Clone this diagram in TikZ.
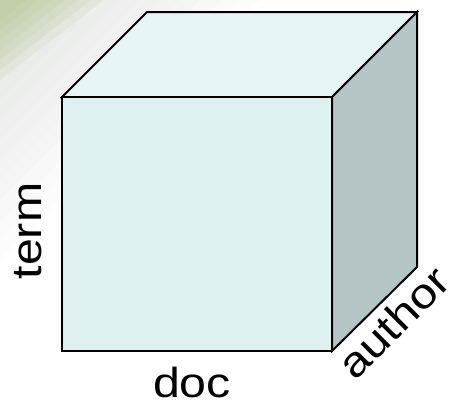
\documentclass[tikz,border=0pt]{standalone}
\usepackage{fontspec}
\setmainfont{Liberation Sans}
\definecolor{frontc}{RGB}{223,240,240}
\definecolor{topc}{RGB}{230,244,245}
\definecolor{sidec}{RGB}{181,196,196}
\definecolor{bggreen}{RGB}{170,192,130}
\definecolor{bggray}{RGB}{200,204,200}
\tikzset{
  face/.style={draw=black, line width=2pt, line join=miter},
  lab/.style={inner sep=0pt, anchor=base, font=\fontsize{42}{50}\selectfont},
}
\newcommand{\wide}[1]{\scalebox{1.15}[1]{#1}}
\begin{document}
\begin{tikzpicture}[x=1pt,y=-1pt]
\useasboundingbox (0,0) rectangle (455,405);
% background decoration
\foreach \s in {60,80,...,260}
  \fill[bggray, opacity=0.05] (0,0) -- (\s,0) -- (0,\s) -- cycle;
\foreach \s in {20,30,...,80}
  \fill[bggreen, opacity=0.12] (0,0) -- (\s*1.3,0) -- (0,\s) -- cycle;
% cube corners
\coordinate (A) at (62,97);
\coordinate (B) at (332,97);
\coordinate (C) at (332,351);
\coordinate (D) at (62,351);
\coordinate (E) at (147,12);
\coordinate (F) at (417,12);
\coordinate (G) at (417,267);
\path[face, fill=topc] (A) -- (E) -- (F) -- (B) -- cycle;
\path[face, fill=sidec] (B) -- (F) -- (G) -- (C) -- cycle;
\path[face, fill=frontc] (A) -- (B) -- (C) -- (D) -- cycle;
% labels
\node[lab] (doc) at (192,397) {\wide{doc}};
\node[lab, rotate=90] (term) at (41,231) {\wide{term}};
\node[lab, rotate=45] (author) at (404,333) {\wide{author}};
\end{tikzpicture}
\end{document}
